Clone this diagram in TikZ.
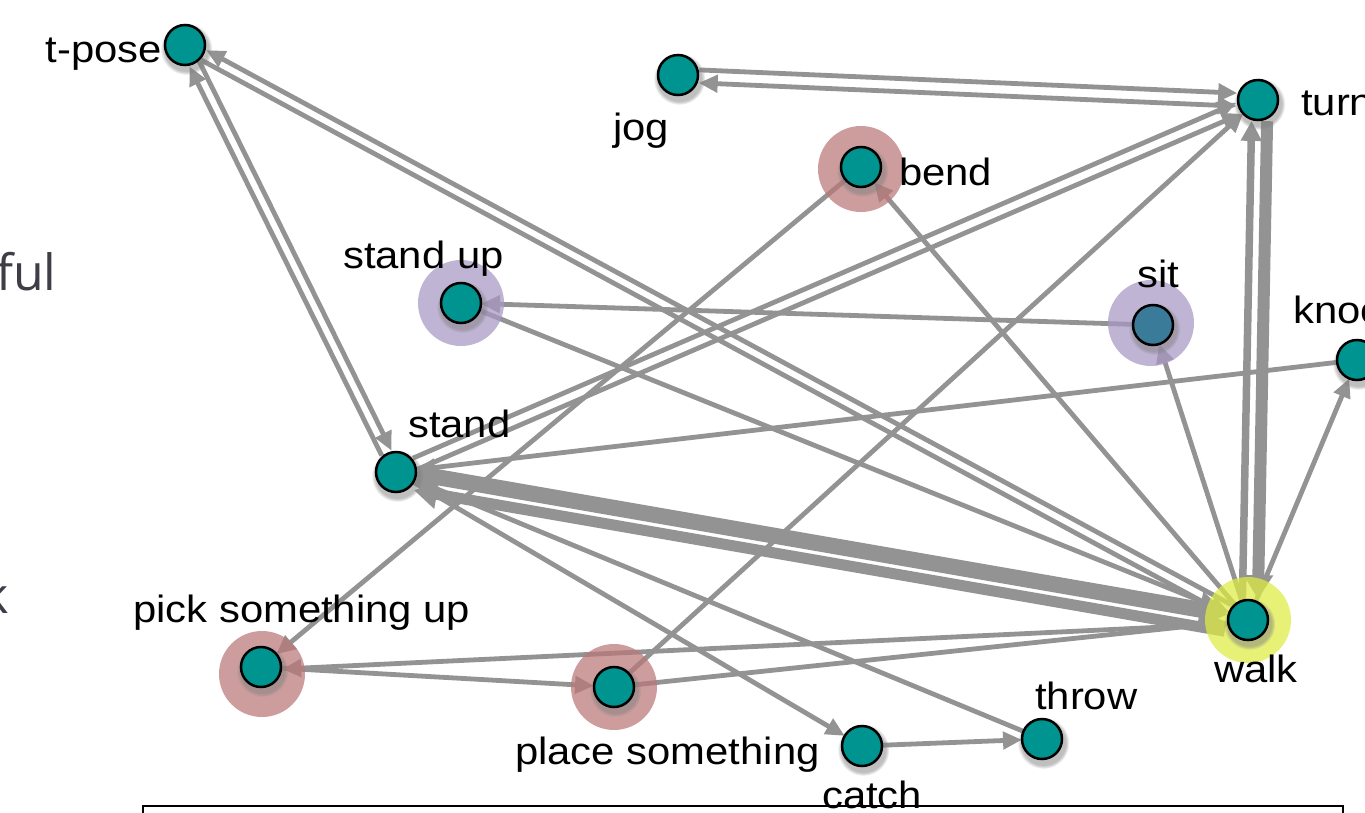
\documentclass[tikz,border=0pt]{standalone}
\usepackage{fontspec}
\setmainfont{Liberation Sans}
\newfontfamily\labfont[FakeStretch=1.1]{Liberation Sans}
\newfontfamily\slidefont{Open Sans}
\usetikzlibrary{arrows.meta,calc,shadows}
\pgfdeclarelayer{edgelayer}
\pgfdeclarelayer{halolayer}
\pgfsetlayers{edgelayer,halolayer,main}
\definecolor{tealnode}{RGB}{0,148,144}
\definecolor{sitblue}{RGB}{58,123,153}
\definecolor{edgegray}{RGB}{147,147,147}
\definecolor{halored}{RGB}{186,119,119}
\definecolor{halopurple}{RGB}{168,151,196}
\definecolor{haloyellow}{RGB}{222,236,65}
\definecolor{slidetext}{RGB}{62,62,70}
\tikzset{
  vert/.style={circle, draw=black, line width=2.5pt, fill=tealnode, minimum size=40pt, inner sep=0pt, outer sep=0pt,
    circular drop shadow={shadow xshift=1pt, shadow yshift=-3pt, shadow scale=1.3, opacity=0.5}},
  lab/.style={font=\labfont\fontsize{38}{44}\selectfont, inner sep=0pt, text=black},
  halo/.style={circle, fill=#1, opacity=0.72, minimum size=86pt, inner sep=0pt},
  edge/.style={draw=edgegray, line width=4.8pt, -{Triangle[length=19pt,width=17pt]}},
  bothedge/.style={draw=edgegray, line width=4.8pt, {Triangle[length=19pt,width=17pt]}-{Triangle[length=19pt,width=17pt]}},
  sh/.style={shorten <=21pt, shorten >=21pt},
}
\begin{document}
\begin{tikzpicture}[x=1pt,y=-1pt]
\useasboundingbox (0,0) rectangle (1365,812);
% slide background text
\node[font=\slidefont\fontsize{50}{56}\selectfont, text=slidetext, anchor=base west, inner sep=0pt] (ful) at (-4,290) {ful};
\node[font=\slidefont\fontsize{50}{56}\selectfont, text=slidetext, anchor=base west, inner sep=0pt] (kk) at (-18,613) {k};

% nodes
\node[vert] (tpose) at (185,45) {};
\node[vert] (jog) at (678,75) {};
\node[vert] (turn) at (1258,100) {};
\node[vert] (bend) at (861,167) {};
\node[vert] (standup) at (461,303) {};
\node[vert, fill=sitblue] (sit) at (1153,325) {};
\node[vert] (knock) at (1357,360) {};
\node[vert] (stand) at (396,472) {};
\node[vert] (walk) at (1248,620) {};
\node[vert] (pick) at (261,667) {};
\node[vert] (place) at (614,687) {};
\node[vert] (catch) at (862,746) {};
\node[vert] (throw) at (1042,739) {};

% halos
\begin{pgfonlayer}{halolayer}
\node[halo=halored] (hbend) at (861,169) {};
\node[halo=halopurple] (hstandup) at (461,303) {};
\node[halo=halopurple] (hsit) at (1151,323) {};
\node[halo=haloyellow] (hwalk) at (1248,620) {};
\node[halo=halored] (hpick) at (262,674) {};
\node[halo=halored] (hplace) at (614,687) {};
\end{pgfonlayer}

% labels
\node[lab, anchor=base east] (ltpose) at (162,62) {t-pose};
\node[lab, anchor=base west] (ljog) at (613,140) {jog};
\node[lab, anchor=base west] (lturn) at (1301,115) {turn};
\node[lab, anchor=base west] (lbend) at (899,185) {bend};
\node[lab, anchor=base west] (lstandup) at (343,268) {stand up};
\node[lab, anchor=base west] (lsit) at (1137,287) {sit};
\node[lab, anchor=base west] (lknock) at (1293,323) {knock};
\node[lab, anchor=base west] (lstand) at (408,437) {stand};
\node[lab, anchor=base west] (lwalk) at (1214,682) {walk};
\node[lab, anchor=base west] (lpick) at (133,622) {pick something up};
\node[lab, anchor=base west] (lplace) at (515,764) {place something};
\node[lab, anchor=base west] (lcatch) at (822,808) {catch};
\node[lab, anchor=base west] (lthrow) at (1035,709) {throw};

% edges
\begin{pgfonlayer}{edgelayer}
% t-pose <-> stand
\draw[edge, sh] ($(tpose)!5.5pt!90:(stand)$) -- ($(stand)!5.5pt!-90:(tpose)$);
\draw[edge, sh] ($(stand)!5.5pt!90:(tpose)$) -- ($(tpose)!5.5pt!-90:(stand)$);
% t-pose <-> walk
\draw[edge, sh] ($(walk)!5.5pt!-90:(tpose)$) -- ($(tpose)!5.5pt!90:(walk)$);
\draw[edge, sh] ($(tpose)!5.5pt!-90:(walk)$) -- ($(walk)!5.5pt!90:(tpose)$);
% jog <-> turn
\draw[edge, sh] ($(jog)!6pt!90:(turn)$) -- ($(turn)!6pt!-90:(jog)$);
\draw[bothedge, sh] ($(turn)!7pt!90:(jog)$) -- ($(jog)!7pt!-90:(turn)$);
% stand -> turn (two)
\draw[edge, sh] ($(stand)!6pt!90:(turn)$) -- ($(turn)!6pt!-90:(stand)$);
\draw[edge, sh] ($(stand)!6pt!-90:(turn)$) -- ($(turn)!6pt!90:(stand)$);
% single edges
\draw[edge] (place) -- (turn);
\draw[edge] (bend) -- (pick);
\draw[edge] (walk) -- (bend);
\draw[edge] (sit) -- (standup);
\draw[edge] (standup) -- (walk);
\draw[edge] (walk) -- (sit);
\draw[edge] (walk) -- (knock);
\draw[edge] (knock) -- (stand);
\draw[edge] (stand) -- (catch);
\draw[edge] (throw) -- (stand);
\draw[edge] (catch) -- (throw);
\draw[edge] (pick) -- (place);
\draw[edge, sh] ($(walk)!3pt!90:(pick)$) -- ($(pick)!3pt!-90:(walk)$);
\draw[edge] (place) -- (walk);
% stand <-> walk (thick)
\draw[edge, sh, line width=16pt, -{Triangle[length=28pt,width=35pt]}] ($(stand)!2pt!90:(walk)$) -- ($(walk)!2pt!-90:(stand)$);
\draw[edge, sh, line width=11pt, -{Triangle[length=23pt,width=28pt]}] ($(walk)!15pt!90:(stand)$) -- ($(stand)!15pt!-90:(walk)$);
% walk <-> turn (thick)
\draw[edge, sh, line width=7.5pt, -{Triangle[length=20pt,width=20pt]}] ($(walk)!6pt!90:(turn)$) -- ($(turn)!6pt!-90:(walk)$);
\draw[edge, sh, line width=12pt, -{Triangle[length=24pt,width=28pt]}] ($(turn)!9.5pt!90:(walk)$) -- ($(walk)!9.5pt!-90:(turn)$);
\end{pgfonlayer}

% bottom frame
\draw[line width=2pt] (143,806) rectangle (1343,840);
\end{tikzpicture}
\end{document}
